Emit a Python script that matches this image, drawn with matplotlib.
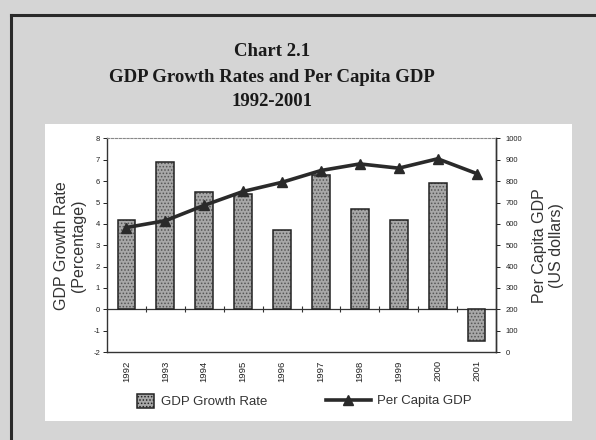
import matplotlib
matplotlib.use("Agg")
import matplotlib.pyplot as plt
from matplotlib.patches import Rectangle, Patch
from matplotlib.lines import Line2D
import numpy as np

years = ["1992", "1993", "1994", "1995", "1996", "1997", "1998", "1999", "2000", "2001"]
growth_rate = [4.2, 6.9, 5.5, 5.4, 3.7, 6.3, 4.7, 4.2, 5.9, -1.5]
per_capita_gdp = [583, 615, 687, 752, 795, 850, 881, 861, 905, 836]
left_ticks = [-2, -1, 0, 1, 2, 3, 4, 5, 6, 7, 8]
right_ticks = [0, 100, 200, 300, 400, 500, 600, 700, 800, 900, 1000]

plt.rcParams['font.family'] = ['Liberation Sans', 'DejaVu Sans']
plt.rcParams['hatch.linewidth'] = 0.7
plt.rcParams['axes.unicode_minus'] = False

W, H = 596, 440
fig = plt.figure(figsize=(W / 100, H / 100), dpi=100)
fig.patch.set_facecolor('#d5d5d5')

def fx(px):
    return px / W

def fy(py):
    return 1 - py / H

# outer frame (top and left)
fig.add_artist(Line2D([fx(11), 1], [fy(15), fy(15)], color='#2a2a2a', lw=2.2, transform=fig.transFigure))
fig.add_artist(Line2D([fx(11), fx(11)], [fy(15), 0], color='#2a2a2a', lw=2.2, transform=fig.transFigure))

# white panel
fig.add_artist(Rectangle((fx(45), fy(421)), fx(572) - fx(45), fy(124) - fy(421),
                         transform=fig.transFigure, facecolor='white', edgecolor='none', zorder=0))

# titles
title_kw = dict(family=['Liberation Serif', 'DejaVu Serif'], weight='bold', fontsize=13.5,
                ha='center', va='center', color='#1a1a1a')
fig.text(fx(272), fy(51), "Chart 2.1", **title_kw)
fig.text(fx(272), fy(77), "GDP Growth Rates and Per Capita GDP", **title_kw)
fig.text(fx(272), fy(102), "1992-2001", **title_kw)

ax = fig.add_axes([fx(107), fy(352), fx(496) - fx(107), fy(138.5) - fy(352)])
ax.set_facecolor('none')
x = np.arange(len(years))

BAR_FACE = '#a8a8a8'
ax.bar(x, growth_rate, width=0.46, facecolor=BAR_FACE, edgecolor='#555555', hatch='.....',
       linewidth=0, zorder=2)
ax.bar(x, growth_rate, width=0.46, facecolor='none', edgecolor='#222222', linewidth=1.1, zorder=3)

ax.set_xlim(-0.5, len(years) - 0.5)
ax.set_ylim(left_ticks[0], left_ticks[-1])
ax.set_yticks(left_ticks)
ax.tick_params(axis='y', labelsize=5.5, length=3, width=0.7, direction='out', pad=2, colors='#222')
ax.set_xticks(x)
ax.set_xticklabels(years, rotation=90, fontsize=6.8)
ax.tick_params(axis='x', length=0, pad=6, colors='#222')

# zero line with tick marks between categories
ax.axhline(0, color='#333333', lw=0.9, zorder=1)
ax.plot(x[:-1] + 0.5, np.zeros(len(x) - 1), linestyle='none', marker='|', markersize=5,
        color='#333333', markeredgewidth=0.8, zorder=1)

for s in ['left', 'bottom', 'right']:
    ax.spines[s].set_color('#333333')
    ax.spines[s].set_linewidth(1.0)
ax.spines['top'].set_color('#888888')
ax.spines['top'].set_linestyle((0, (2, 1.5)))
ax.spines['top'].set_linewidth(0.8)

ax.set_ylabel("GDP Growth Rate\n(Percentage)", fontsize=11.5, color='#333', labelpad=5,
              linespacing=1.2)

ax2 = ax.twinx()
ax2.plot(x, per_capita_gdp, color='#2a2a2a', lw=2.6, marker='^', markersize=7,
         markerfacecolor='#2a2a2a', markeredgecolor='#2a2a2a', zorder=5)
ax2.set_ylim(right_ticks[0], right_ticks[-1])
ax2.set_yticks(right_ticks)
ax2.tick_params(axis='y', labelsize=5.5, length=3, width=0.7, direction='out', pad=4, colors='#222')
for s in ['left', 'bottom', 'top']:
    ax2.spines[s].set_visible(False)
ax2.spines['right'].set_color('#333333')
ax2.spines['right'].set_linewidth(1.0)
ax2.set_ylabel("Per Capita GDP\n(US dollars)", fontsize=11.5, color='#333', labelpad=7,
               linespacing=1.2)

# legend
h1 = Patch(facecolor=BAR_FACE, edgecolor='#222222', hatch='.....', linewidth=1.1)
h2 = Line2D([], [], color='#2a2a2a', lw=2.6, marker='^', markersize=7)
leg1 = fig.legend([h1], ["GDP Growth Rate"], loc='center left', bbox_to_anchor=(fx(137), fy(401)),
                  frameon=False, fontsize=9.5, handlelength=1.3, handleheight=1.3, handletextpad=0.5,
                  borderaxespad=0, borderpad=0)
leg2 = fig.legend([h2], ["Per Capita GDP"], loc='center left', bbox_to_anchor=(fx(326), fy(401)),
                  frameon=False, fontsize=9.5, handlelength=3.4, handletextpad=0.45,
                  borderaxespad=0, borderpad=0)
for t in leg1.get_texts() + leg2.get_texts():
    t.set_color('#333')

fig.savefig("out.png", dpi=100, facecolor=fig.get_facecolor())
